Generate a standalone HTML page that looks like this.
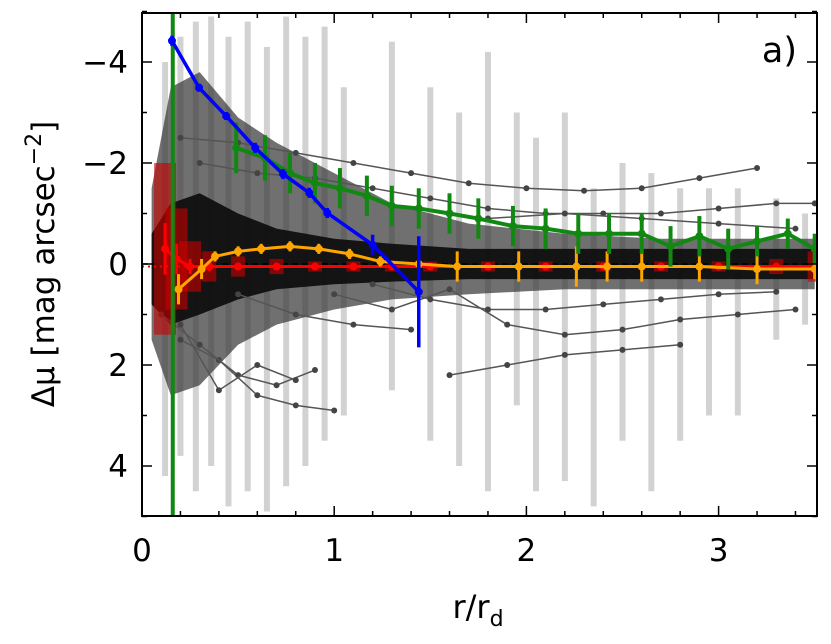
<!DOCTYPE html>
<html><head><meta charset="utf-8"><style>
html,body{margin:0;padding:0;background:#fff}
svg text{font-family:"DejaVu Sans","Liberation Sans",sans-serif}
</style></head><body>
<svg id="chart" width="831" height="644" viewBox="0 0 831 644" xmlns="http://www.w3.org/2000/svg" style="position:absolute;left:0;top:0">
<defs><clipPath id="clip"><rect x="142" y="13" width="675" height="503"/></clipPath></defs>
<g id="plot" clip-path="url(#clip)"></g>
<g id="axes"></g>
<text x="478" y="618" font-size="32" text-anchor="middle">r/r<tspan font-size="22" dy="8">d</tspan></text>
<text transform="translate(54,264) rotate(-90)" font-size="31" text-anchor="middle">Δμ [mag arcsec<tspan font-size="22" dy="-13">−2</tspan><tspan dy="13">]</tspan></text>
<text x="797" y="62" font-size="35" text-anchor="end">a)</text>
</svg>
<script>
// ---- data ----
const blueR=[0.156,0.297,0.438,0.589,0.734,0.870,0.964,1.2,1.44];
const blueY=[-4.42,-3.49,-2.93,-2.30,-1.78,-1.41,-1.01,-0.38,0.55];
const blueErr=[0.1,0.08,0.08,0.1,0.1,0.1,0.1,0.2,1.1];
const greenR=[0.49,0.64,0.77,0.90,1.03,1.17,1.30,1.44,1.60,1.75,1.93,2.10,2.27,2.43,2.60,2.75,2.90,3.05,3.20,3.36,3.5];
const greenY=[-2.3,-2.1,-1.8,-1.6,-1.5,-1.35,-1.15,-1.1,-1.0,-0.9,-0.75,-0.7,-0.6,-0.6,-0.6,-0.35,-0.55,-0.3,-0.45,-0.6,-0.3];
const greenErr=[0.5,0.45,0.4,0.4,0.4,0.4,0.4,0.4,0.4,0.4,0.4,0.4,0.4,0.4,0.4,0.4,0.4,0.4,0.3,0.3,0.3];
const orangeR=[0.19,0.31,0.38,0.5,0.62,0.77,0.92,1.08,1.24,1.44,1.64,1.96,2.26,2.42,2.6,2.9,3.2,3.5];
const orangeY=[0.5,0.1,-0.15,-0.25,-0.3,-0.35,-0.3,-0.2,-0.05,0,0.05,0.05,0.05,0.05,0.05,0.05,0.1,0.1];
const orangeErr=[0.3,0.2,0.1,0.1,0.1,0.1,0.1,0.1,0.1,0.1,0.3,0.3,0.4,0.3,0.3,0.3,0.3,0.2];
const redR=[0.12,0.18,0.25,0.35,0.5,0.7,0.9,1.1,1.3,1.5,1.8,2.1,2.4,2.7,3.0,3.3,3.5];
const redY=[-0.3,-0.1,0.05,0.05,0.05,0.05,0.05,0.05,0.05,0.05,0.05,0.05,0.05,0.05,0.05,0.05,0.05];
const redErr=[1.7,1.0,0.5,0.3,0.2,0.15,0.1,0.1,0.1,0.1,0.1,0.1,0.1,0.1,0.1,0.15,0.3];
const cloudR=[0.05,0.15,0.3,0.5,0.7,1.0,1.3,1.7,2.2,2.7,3.2,3.5];
const cloudTop=[-1.5,-3.5,-3.8,-2.9,-2.4,-1.8,-1.2,-0.8,-0.6,-0.5,-0.5,-0.5];
const cloudBot=[1.5,2.6,2.4,1.6,1.2,0.9,0.7,0.6,0.5,0.5,0.5,0.5];
const coreTop=[-0.6,-1.2,-1.4,-1.0,-0.7,-0.5,-0.4,-0.3,-0.3,-0.3,-0.3,-0.3];
const coreBot=[0.8,1.2,1.0,0.7,0.5,0.4,0.35,0.3,0.3,0.3,0.3,0.3];
const grayProfiles=[
 {r:[0.2,0.5,0.8,1.1,1.4,1.7,2.0,2.3,2.6,2.9,3.2],y:[-2.5,-2.4,-2.2,-2.0,-1.8,-1.6,-1.5,-1.45,-1.5,-1.7,-1.9]},
 {r:[0.3,0.6,0.9,1.2,1.5,1.8,2.1,2.4,2.7,3.0,3.3,3.5],y:[-2.0,-1.8,-1.7,-1.5,-1.3,-1.1,-1.0,-1.0,-1.0,-1.1,-1.2,-1.2]},
 {r:[0.2,0.4,0.6,0.8,1.0],y:[1.5,1.9,2.6,2.8,2.9]},
 {r:[0.1,0.3,0.5,0.7,0.9],y:[1.0,1.6,2.2,2.4,2.1]},
 {r:[1.0,1.3,1.6,1.9,2.2,2.5,2.8,3.1,3.4],y:[0.6,0.9,0.5,1.2,1.4,1.3,1.1,1.0,0.9]},
 {r:[1.6,1.9,2.2,2.5,2.8],y:[2.2,2.0,1.8,1.7,1.6]},
 {r:[0.5,0.8,1.1,1.4],y:[0.6,1.0,1.2,1.3]},
 {r:[1.8,2.2,2.6,3.0,3.4],y:[-0.9,-1.0,-0.9,-0.8,-0.7]},
 {r:[0.2,0.4,0.6,0.8],y:[1.2,2.5,2.0,2.3]},
 {r:[1.2,1.5,1.8,2.1,2.4,2.7,3.0,3.3],y:[0.4,0.7,0.9,0.9,0.8,0.7,0.6,0.55]}
];
const grayBarR=[0.12,0.2,0.28,0.36,0.45,0.55,0.65,0.75,0.85,0.95,1.05,1.3,1.5,1.65,1.8,1.95,2.05,2.2,2.35,2.5,2.65,2.8,2.95,3.1,3.3,3.45];
const grayBarLo=[-4,-4.5,-4.8,-4.9,-4.5,-4.8,-4.3,-4.9,-4.5,-4.7,-3.5,-4.4,-3.5,-3.0,-4.2,-3.0,-2.5,-3.0,-1.5,-2.0,-1.8,-1.5,-1.5,-1.5,-1.3,-1.0];
const grayBarHi=[4.2,3.8,4.5,4.0,4.8,4.5,4.9,4.4,4.0,3.5,3.0,2.5,3.5,4.0,4.5,2.8,4.5,4.3,4.8,3.5,4.5,3.5,3.0,3.0,1.5,1.2];
const xTicks=[0,1,2,3];
const yTicks=[-4,-2,0,2,4];
// ---- axes ----
const X0=142,X1=817,Y0=13,Y1=516;
const xs=r=>X0+r*192.2;
const ys=v=>264+v*50.5;
const NS="http://www.w3.org/2000/svg";
const plot=document.getElementById('plot'),axes=document.getElementById('axes');
function mk(tag,attrs,parent){const e=document.createElementNS(NS,tag);for(const k in attrs)e.setAttribute(k,attrs[k]);parent.appendChild(e);return e;}
grayBarR.forEach((r,i)=>{
 const e=mk('line',{x1:xs(r),x2:xs(r),y1:ys(grayBarLo[i]),y2:ys(grayBarHi[i]),stroke:'#c8c8c8','stroke-width':6,opacity:0.8},plot);
 
 
});
function band(top,bot,fill,op,name){
 let d='M'+cloudR.map((r,i)=>xs(r)+','+ys(top[i])).join('L');
 d+='L'+cloudR.slice().reverse().map((r,j)=>{const i=cloudR.length-1-j;return xs(r)+','+ys(bot[i]);}).join('L')+'Z';
 const e=mk('path',{d:d,fill:fill,opacity:op},plot);
 
 
}
band(cloudTop,cloudBot,'#333',0.7,'sample-cloud');
band(coreTop,coreBot,'#0a0a0a',0.9,'sample-cloud-core');
grayProfiles.forEach(p=>{
 const e=mk('polyline',{points:p.r.map((r,i)=>xs(r)+','+ys(p.y[i])).join(' '),fill:'none',stroke:'#555','stroke-width':1.5},plot);
 
 
 p.r.forEach((r,i)=>{const c=mk('circle',{cx:xs(r),cy:ys(p.y[i]),r:3,fill:'#444'},plot);
  
  });
});
let z=mk('line',{x1:X0,x2:X1,y1:ys(0),y2:ys(0),stroke:'#000','stroke-width':1.5,'stroke-dasharray':'6,4'},plot);


redR.forEach((r,i)=>{
 const w=i<3?22:14;
 const e=mk('rect',{x:xs(r)-w/2,y:ys(redY[i]-redErr[i]),width:w,height:redErr[i]*2*50.5,fill:'#c00',opacity:0.6},plot);
 
 
});
function series(R,Y,E,color,w,name,ew){
 R.forEach((r,i)=>{const e=mk('line',{x1:xs(r),x2:xs(r),y1:ys(Y[i]-E[i]),y2:ys(Y[i]+E[i]),stroke:color,'stroke-width':ew},plot);
  
  });
 const l=mk('polyline',{points:R.map((r,i)=>xs(r)+','+ys(Y[i])).join(' '),fill:'none',stroke:color,'stroke-width':w,'stroke-linejoin':'round'},plot);
 
 
 R.forEach((r,i)=>{const c=mk('circle',{cx:xs(r),cy:ys(Y[i]),r:4,fill:color},plot);
  
  });
}
series(redR,redY,redErr.map(v=>v*0.3),'#f00',3,'red',3);
let rd=mk('line',{x1:X0,x2:X1,y1:ys(0.05),y2:ys(0.05),stroke:'#f00','stroke-width':2,'stroke-dasharray':'2,4'},plot);


series(orangeR,orangeY,orangeErr,'#ffa500',3,'orange',3);
let gv=mk('line',{x1:xs(0.16),x2:xs(0.16),y1:Y0,y2:Y1,stroke:'#118811','stroke-width':4},plot);


series(greenR,greenY,greenErr,'#118811',4,'green',4);
series(blueR,blueY,blueErr,'#0000ff',3.5,'blue',3.5);
let fr=mk('rect',{x:X0,y:Y0,width:X1-X0,height:Y1-Y0,fill:'none',stroke:'#000','stroke-width':2},axes);


for(let v=0;v<=3.5001;v+=0.2){const big=Math.abs(v-Math.round(v))<1e-6;const L=big?10:5;
 mk('line',{x1:xs(v),x2:xs(v),y1:Y1,y2:Y1-L,stroke:'#000','stroke-width':1.5},axes);
 mk('line',{x1:xs(v),x2:xs(v),y1:Y0,y2:Y0+L,stroke:'#000','stroke-width':1.5},axes);}
for(let v=-5;v<=5;v+=1){const big=v%2===0;const L=big?10:5;
 mk('line',{x1:X0,x2:X0+L,y1:ys(v),y2:ys(v),stroke:'#000','stroke-width':1.5},axes);
 mk('line',{x1:X1,x2:X1-L,y1:ys(v),y2:ys(v),stroke:'#000','stroke-width':1.5},axes);}
xTicks.forEach(v=>{const t=mk('text',{x:xs(v),y:561,'font-size':31,'text-anchor':'middle'},axes);t.textContent=v;
 
 });
yTicks.forEach(v=>{const t=mk('text',{x:128,y:ys(v)+11,'font-size':31,'text-anchor':'end'},axes);t.textContent=v<0?'\u2212'+(-v):v;
 
 });
</script>
</body></html>
